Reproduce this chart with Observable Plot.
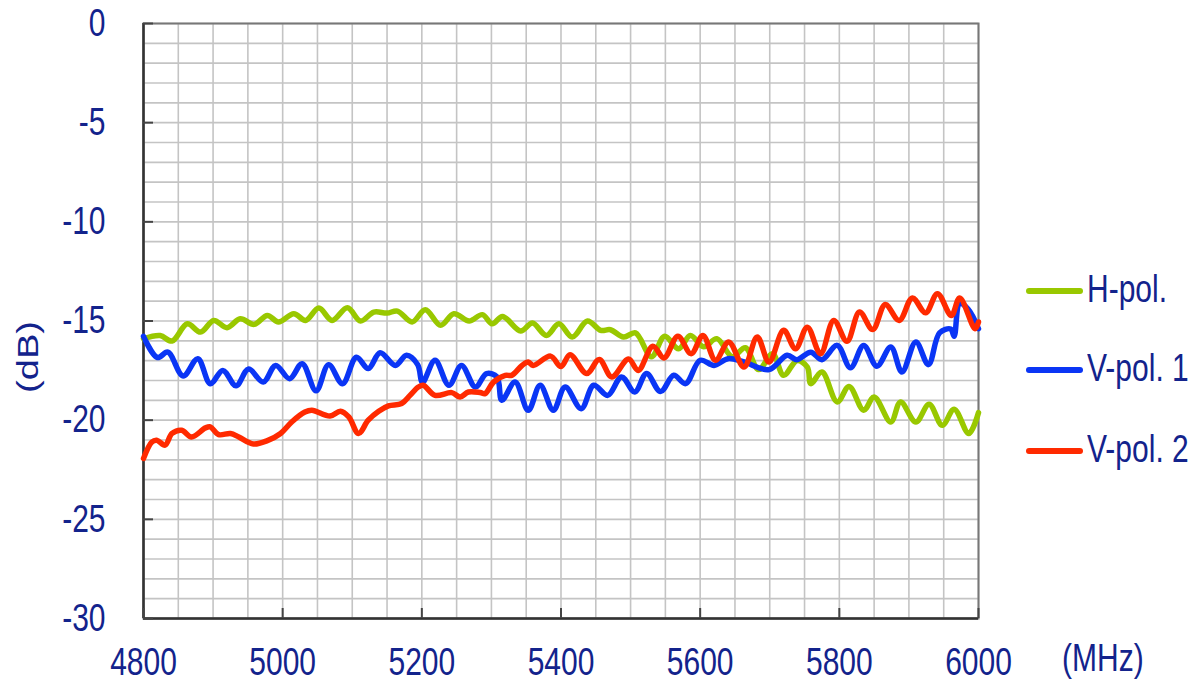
<!DOCTYPE html>
<html><head><meta charset="utf-8">
<script src="https://cdn.jsdelivr.net/npm/d3@7"></script>
<script src="https://cdn.jsdelivr.net/npm/@observablehq/plot@0.6"></script>
<style>
html,body{margin:0;padding:0;background:#fff;}
#wrap{position:relative;width:1204px;height:682px;font-family:"Liberation Sans",Arial,sans-serif;color:#13238c;overflow:hidden;}
.lab{position:absolute;font-size:30px;line-height:30px;white-space:nowrap;transform:scaleY(1.27);transform-origin:left center;}
.leg{position:absolute;width:57px;height:6px;border-radius:3px;}
</style></head><body><div id="wrap"></div>
<script>
// Tick labels
const xTicks = [4800, 5000, 5200, 5400, 5600, 5800, 6000];
const yTicks = [-30, -25, -20, -15, -10, -5, 0];
const seriesNames = ["H-pol.", "V-pol. 1", "V-pol. 2"];
const seriesColors = ["#99c800", "#0a35f5", "#ff2a00"];

// H-pol.
const hFreq = [4800,4824,4841,4863,4882,4901,4920,4939,4959,4978,4994,5016,5033,5052,5071,5093,5112,5131,5150,5165,5186,5205,5227,5246,5268,5287,5301,5316,5342,5359,5379,5397,5416,5438,5457,5471,5490,5507,5530,5549,5569,5586,5605,5624,5646,5665,5684,5704,5720,5739,5754,5759,5775,5797,5814,5835,5850,5874,5888,5910,5929,5948,5965,5986,6000];
const hDb = [-15.89,-15.73,-16.01,-15.14,-15.56,-14.97,-15.34,-14.89,-15.17,-14.72,-15.05,-14.63,-14.97,-14.35,-14.97,-14.33,-15.0,-14.55,-14.6,-14.5,-15.05,-14.43,-15.22,-14.63,-15.0,-14.68,-15.14,-14.77,-15.5,-15.1,-15.73,-15.14,-15.81,-15.0,-15.47,-15.44,-15.81,-15.6,-16.8,-15.77,-16.4,-15.73,-16.3,-15.89,-16.8,-16.35,-17.45,-16.65,-17.74,-17.0,-17.32,-18.16,-17.57,-19.08,-18.3,-19.5,-18.83,-20.09,-19.08,-20.09,-19.2,-20.26,-19.45,-20.67,-19.62];

// V-pol. 1
const v1Freq = [4800,4820,4835,4857,4878,4896,4914,4933,4951,4972,4990,5010,5028,5048,5066,5086,5106,5123,5140,5162,5178,5194,5201,5219,5239,5257,5277,5293,5308,5315,5334,5353,5370,5389,5406,5429,5447,5467,5487,5506,5523,5543,5562,5579,5600,5620,5640,5662,5699,5725,5739,5759,5775,5797,5816,5835,5854,5874,5890,5910,5928,5944,5960,5965,5973,5985,6000];
const v1Db = [-15.77,-16.84,-16.57,-17.77,-16.9,-18.16,-17.49,-18.27,-17.42,-18.08,-17.24,-17.91,-17.15,-18.52,-17.2,-18.16,-16.83,-17.4,-16.6,-17.24,-16.73,-17.2,-18.1,-16.98,-18.24,-17.24,-18.33,-17.65,-17.82,-19.0,-18.08,-19.5,-18.24,-19.5,-18.33,-19.42,-18.24,-18.75,-17.82,-18.58,-17.65,-18.56,-17.74,-18.16,-16.98,-17.24,-16.9,-17.05,-17.45,-16.73,-16.95,-16.57,-16.95,-16.23,-17.36,-16.23,-17.28,-16.31,-17.57,-16.06,-17.2,-15.6,-15.4,-15.77,-14.13,-14.4,-15.39];

// V-pol. 2
const v2Freq = [4800,4812,4819,4831,4841,4855,4869,4889,4896,4908,4925,4937,4958,4978,4997,5013,5032,5042,5068,5083,5095,5109,5123,5138,5152,5171,5183,5195,5202,5219,5243,5255,5267,5284,5291,5303,5320,5329,5344,5353,5360,5385,5400,5413,5437,5455,5473,5497,5511,5532,5548,5568,5587,5604,5622,5641,5663,5682,5699,5720,5737,5754,5773,5792,5811,5829,5848,5866,5886,5905,5924,5941,5961,5973,5995,6000];
const v2Db = [-21.93,-21.1,-21.01,-21.26,-20.67,-20.51,-20.85,-20.39,-20.34,-20.73,-20.67,-20.85,-21.2,-21.03,-20.67,-20.09,-19.59,-19.5,-19.79,-19.55,-19.84,-20.67,-20.0,-19.55,-19.28,-19.16,-18.75,-18.33,-18.24,-18.75,-18.61,-18.83,-18.58,-18.61,-18.66,-18.08,-17.74,-17.74,-17.24,-17.07,-17.24,-16.77,-17.3,-16.7,-17.65,-16.94,-17.82,-16.92,-17.49,-16.27,-16.86,-15.77,-16.65,-15.73,-16.98,-16.06,-17.32,-15.81,-17.07,-15.47,-16.4,-15.31,-16.65,-14.97,-16.02,-14.55,-15.43,-14.17,-14.97,-13.84,-14.59,-13.62,-14.72,-13.84,-15.39,-15.05];

const navy = "#13238c";
const toRows = (fs, ds) => fs.map((f, i) => ({f, db: ds[i]}));
const series = [toRows(hFreq, hDb), toRows(v1Freq, v1Db), toRows(v2Freq, v2Db)];

const chart = Plot.plot({
  width: 1204,
  height: 682,
  marginLeft: 143,
  marginRight: 226,
  marginTop: 23,
  marginBottom: 64,
  style: {fontFamily: "'Liberation Sans', Arial, sans-serif", fontSize: "30px", background: "white", overflow: "visible"},
  x: {domain: [4800, 6000]},
  y: {domain: [-30, 0]},
  marks: [
    Plot.gridX({ticks: d3.range(4800, 6001, 50), stroke: "#c4c4c4", strokeOpacity: 1, strokeWidth: 1.6}),
    Plot.gridY({ticks: d3.range(-30, 0.5, 1), stroke: "#c4c4c4", strokeOpacity: 1, strokeWidth: 1.6}),
    Plot.frame({stroke: "#777", strokeWidth: 2}),
    Plot.ruleX([4800], {stroke: "#333", strokeWidth: 2.5}),
    Plot.ruleY([-30], {stroke: "#333", strokeWidth: 2.5}),
    Plot.axisX({ticks: xTicks, tickSize: -10, tickPadding: 39, tickFormat: d => String(d), stroke: "#444", strokeWidth: 2, fill: navy, label: null, fontSize: 30}),
    Plot.axisY({ticks: yTicks, tickSize: -10, tickPadding: 48, tickFormat: d => String(d), stroke: "#444", strokeWidth: 2, fill: navy, label: null, fontSize: 30}),
    ...series.map((rows, i) => Plot.line(rows, {x: "f", y: "db", stroke: seriesColors[i], strokeWidth: 5.5, curve: "catmull-rom", strokeLinecap: "round", strokeLinejoin: "round"}))
  ]
});

// stretch text vertically to match the reference's tall glyphs
chart.querySelectorAll("text").forEach(t => {
  const tr = t.getAttribute("transform");
  if (tr) t.setAttribute("transform", tr + " scale(1,1.27)");
});

const wrap = document.getElementById("wrap");
wrap.appendChild(chart);

function addLabel(text, left, centerY) {
  const d = document.createElement("div");
  d.className = "lab";
  d.textContent = text;
  d.style.left = left + "px";
  d.style.top = (centerY - 15) + "px";
  wrap.appendChild(d);
  return d;
}
// legend
const legendY = [291, 370, 451];
seriesNames.forEach((name, i) => {
  const l = document.createElement("div");
  l.className = "leg";
  l.style.left = "1026px";
  l.style.top = (legendY[i] - 3) + "px";
  l.style.background = seriesColors[i];
  wrap.appendChild(l);
  addLabel(name, 1087, legendY[i] - 2);
});
// axis units
addLabel("(MHz)", 1062, 658);
const dB = document.createElement("div");
dB.className = "lab";
dB.textContent = "(dB)";
dB.style.left = "28px";
dB.style.top = "357px";
dB.style.transformOrigin = "center center";
dB.style.transform = "translate(-50%,-50%) scaleY(1.27) rotate(-90deg)";
wrap.appendChild(dB);
</script>
</body></html>
